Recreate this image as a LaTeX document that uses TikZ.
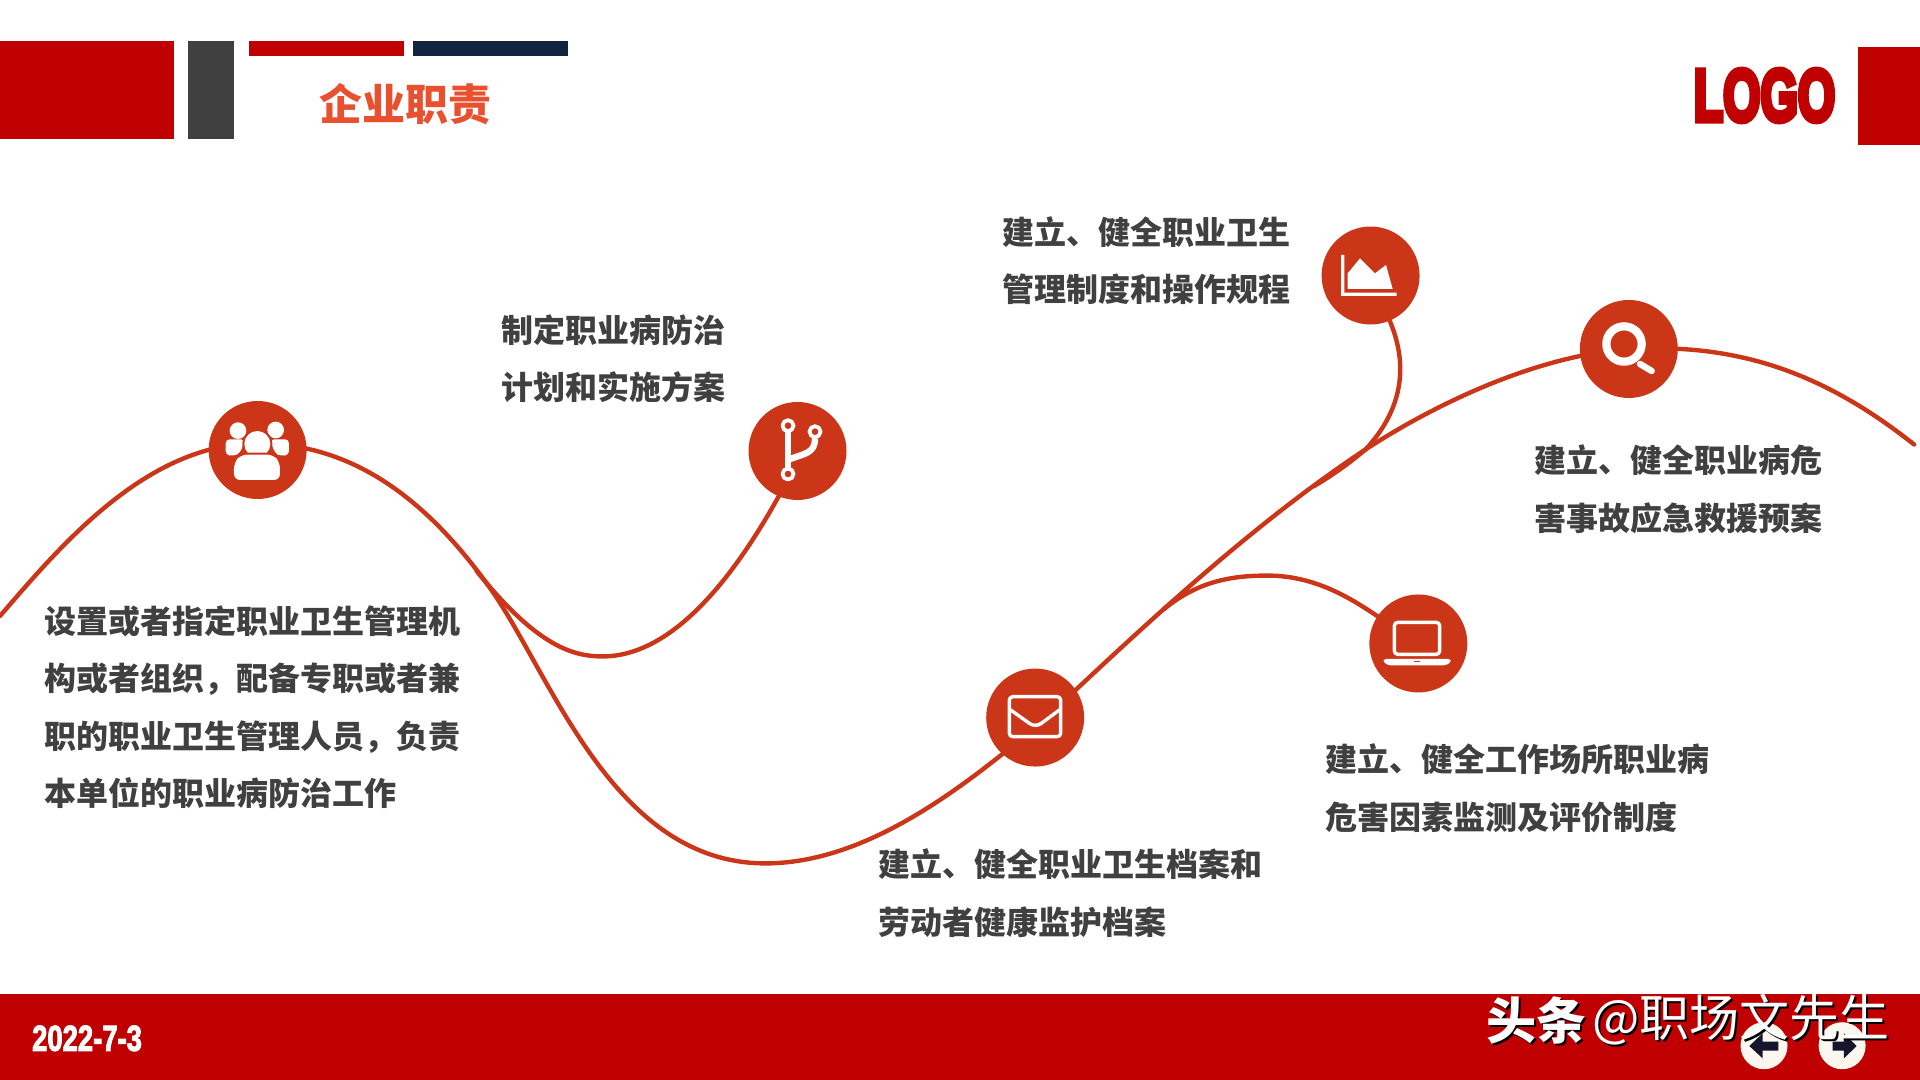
\documentclass[tikz,border=0pt]{standalone}
\usepackage{fontspec}
\usetikzlibrary{backgrounds}
\newfontfamily\cjk{Noto Sans CJK SC}
\newfontfamily\logofont[UprightFont=* Bold,FakeBold=8]{Liberation Sans}
\newfontfamily\datefont[UprightFont=* Bold,FakeBold=3]{Liberation Sans}
\definecolor{brandred}{HTML}{C00000}
\definecolor{curvered}{HTML}{CB3618}
\definecolor{titlered}{HTML}{E8502F}
\definecolor{darkgray}{HTML}{404040}
\definecolor{navy}{HTML}{12243F}
\definecolor{cream}{HTML}{FBF7EE}
\definecolor{arrowdark}{HTML}{15152B}
\tikzset{
  block/.style={fill=#1,draw=none},
  curve/.style={draw=curvered,line width=2.2pt,line cap=round},
  iconcircle/.style={circle,fill=curvered,draw=none,minimum size=49pt,inner sep=0pt},
  bodytext/.style={anchor=west,inner sep=0pt,align=left,text=darkgray,font=\cjk\bfseries\fontsize{16}{28.8}\selectfont},
  ic/.style={fill=white,draw=none},
  icl/.style={draw=white,fill=none,line join=round},
  navbtn/.style={circle,fill=cream,draw=none,minimum size=23.5pt,inner sep=0pt},
  wm/.style={inner sep=0pt,anchor=west,font=\cjk\fontsize{25}{25}\selectfont}
}
\begin{document}
\begin{tikzpicture}[x=0.5pt,y=-0.5pt]
\useasboundingbox (0,0) rectangle (1920,1080);
\begin{scope}[scale=1.22449]
  % header / footer blocks
  \path[block=brandred] (0,33.5) rectangle (142,113.5);
  \path[block=darkgray] (153.7,33.5) rectangle (191,113.5);
  \path[block=brandred] (203,33.5) rectangle (330,46);
  \path[block=navy] (337,33.5) rectangle (464,46);
  \path[block=brandred] (1517,38.2) rectangle (1568,118.4);
  \path[block=brandred] (0,811.7) rectangle (1568,882);
  \node[inner sep=0pt,text=titlered,font=\cjk\bfseries\fontsize{21.5}{21.5}\selectfont] (title) at (331,85) {企业职责};
  \node[inner sep=0pt,text=brandred,xscale=0.49,yscale=0.75,transform shape] (logo) at (1441,78) {\logofont\fontsize{40}{40}\selectfont LOGO};
  \node[inner sep=0pt,text=white,anchor=west,xscale=.7,yscale=.92,transform shape,font=\datefont\fontsize{16}{16}\selectfont] (date) at (26,848) {2022-7-3};
  % circles
  \node[iconcircle] (c1) at (210.4,367.5) {};
  \node[iconcircle] (c2) at (651.3,368.3) {};
  \node[iconcircle] (c3) at (845.4,586) {};
  \node[iconcircle] (c4) at (1119.3,225) {};
  \node[iconcircle] (c5) at (1158.3,525.5) {};
  \node[iconcircle] (c6) at (1330.2,285) {};
  % joints of the curves
  \coordinate (a0) at (0,503);
  \coordinate (a1) at (210,362);
  \coordinate (a2) at (400,480);
  \coordinate (a3) at (625,705);
  \coordinate (a4) at (850,590);
  \coordinate (a5) at (1115,367);
  \coordinate (a6) at (1330,285);
  \coordinate (a7) at (1563,363);
  \coordinate (b0) at (389,466);
  \coordinate (b1) at (492,536);
  \coordinate (b2) at (636,405);
  \coordinate (d1) at (1136,265);
  \coordinate (d2) at (1115,367);
  \coordinate (d3) at (1072.8,397);
  \coordinate (e0) at (950.5,497.3);
  \coordinate (e1) at (1035,470);
  \begin{scope}[on background layer]
    \draw[curve] (a0) .. controls (50,445) and (120,362) .. (a1)
      .. controls (290,362) and (350,410) .. (a2)
      .. controls (450,550) and (500,705) .. (a3)
      .. controls (710,705) and (790,640) .. (a4)
      .. controls (930,515) and (1020,430) .. (a5)
      .. controls (1180,325) and (1260,290) .. (a6)
      .. controls (1420,280) and (1490,305) .. (a7);
    \draw[curve] (b0) .. controls (440,530) and (470,536) .. (b1)
      .. controls (550,536) and (600,470) .. (b2) -- (c2);
    \draw[curve] (c4) -- (d1) .. controls (1150,300) and (1145,335) .. (d2)
      .. controls (1100,380) and (1085,390) .. (d3);
    \draw[curve] (e0) .. controls (978,475) and (1005,470) .. (e1)
      .. controls (1075,470) and (1105,490) .. (c5);
  \end{scope}
  % texts
  \node[bodytext] (t1) at (36,577.5) {设置或者指定职业卫生管理机\\构或者组织，配备专职或者兼\\职的职业卫生管理人员，负责\\本单位的职业病防治工作};
  \node[bodytext] (t2) at (409,293) {制定职业病防治\\计划和实施方案};
  \node[bodytext] (t3) at (818,213) {建立、健全职业卫生\\管理制度和操作规程};
  \node[bodytext] (t4) at (1253,399.5) {建立、健全职业病危\\害事故应急救援预案};
  \node[bodytext] (t5) at (1082,643.5) {建立、健全工作场所职业病\\危害因素监测及评价制度};
  \node[bodytext] (t6) at (717,729.5) {建立、健全职业卫生档案和\\劳动者健康监护档案};
  % nav buttons
  \node[navbtn] (n1) at (1440.6,854) {};
  \node[navbtn] (n2) at (1504.4,854) {};
\end{scope}
% left/right arrows
\begin{scope}[shift={(1460,970)},scale=0.3333]
  \fill[arrowdark] (868,228) -- (908,190) -- (908,215) -- (955,215) -- (955,242) -- (908,242) -- (908,265) -- cycle;
  \fill[arrowdark] (1190,228) -- (1152,190) -- (1152,215) -- (1118,215) -- (1118,242) -- (1152,242) -- (1152,265) -- cycle;
\end{scope}
% icon 1 people
\begin{scope}[shift={(190,390)},scale=0.3333]
  \fill[ic] (144,122) circle (25);
  \fill[ic] (257,120) circle (25);
  \fill[ic,rounded corners=2pt] (107,195) -- (107,148) -- (165,148) -- (150,190) -- (130,198) -- cycle;
  \fill[ic,rounded corners=2pt] (297,195) -- (297,148) -- (240,148) -- (255,190) -- (272,198) -- cycle;
  \fill[curvered] (202,162) circle (45);
  \fill[ic] (202,162) circle (39);
  \fill[curvered,rounded corners=3pt] (128,274) -- (128,215) -- (150,188) -- (255,188) -- (275,215) -- (275,274) -- cycle;
  \fill[ic,rounded corners=3pt] (132,270) -- (132,218) -- (153,194) -- (250,194) -- (270,218) -- (270,270) -- cycle;
\end{scope}
% icon 2 branch
\begin{scope}[shift={(730,390)},scale=0.3333]
  \draw[icl,line width=3.4pt] (174,125) -- (174,235);
  \draw[icl,line width=3.2pt] (255,145) .. controls (255,190) and (225,190) .. (178,208);
  \draw[icl,line width=1.9pt] (174,107) circle (16.5);
  \draw[icl,line width=1.9pt] (255,125) circle (16.5);
  \draw[icl,line width=1.9pt] (174,252) circle (16.5);
\end{scope}
% icon 3 mail
\begin{scope}[shift={(970,660)},scale=0.3333]
  \draw[icl,line width=1.7pt,rounded corners=1.7pt] (118,110) rectangle (272,230);
  \draw[icl,line width=1.7pt,line cap=round] (122,150) -- (178,190) .. controls (190,198) and (202,198) .. (214,190) -- (268,150);
\end{scope}
% icon 4 chart
\begin{scope}[shift={(1310,215)},scale=0.3333]
  \fill[ic] (93,120) -- (103,120) -- (103,233) -- (260,233) -- (260,243) -- (93,243) -- cycle;
  \fill[ic] (113,175) -- (150,130) -- (195,175) -- (228,150) -- (248,222) -- (113,222) -- cycle;
\end{scope}
% icon 5 laptop
\begin{scope}[shift={(1355,585)},scale=0.3333]
  \draw[icl,line width=1.7pt,rounded corners=1.7pt] (118,112) rectangle (254,208);
  \fill[ic,rounded corners=1.2pt] (86,222) -- (287,222) -- (287,232) -- (272,241) -- (100,241) -- (86,232) -- cycle;
  \fill[curvered] (178,228) rectangle (196,231);
\end{scope}
% icon 6 search
\begin{scope}[shift={(1570,290)},scale=0.3333]
  \draw[icl,line width=4.1pt] (162,162) circle (53);
  \draw[icl,line width=3.2pt,line cap=round] (210,222) -- (245,243);
\end{scope}
% watermark
\node[wm,text=black] (wms1) at (1488,1022) {\bfseries 头条};
\node[wm,text=black] (wms2) at (1594,1022) {@职场文先生};
\node[wm,text=white] (wm1) at (1486,1020) {\bfseries 头条};
\node[wm,text=white] (wm2) at (1592,1020) {@职场文先生};
\end{tikzpicture}
\end{document}
